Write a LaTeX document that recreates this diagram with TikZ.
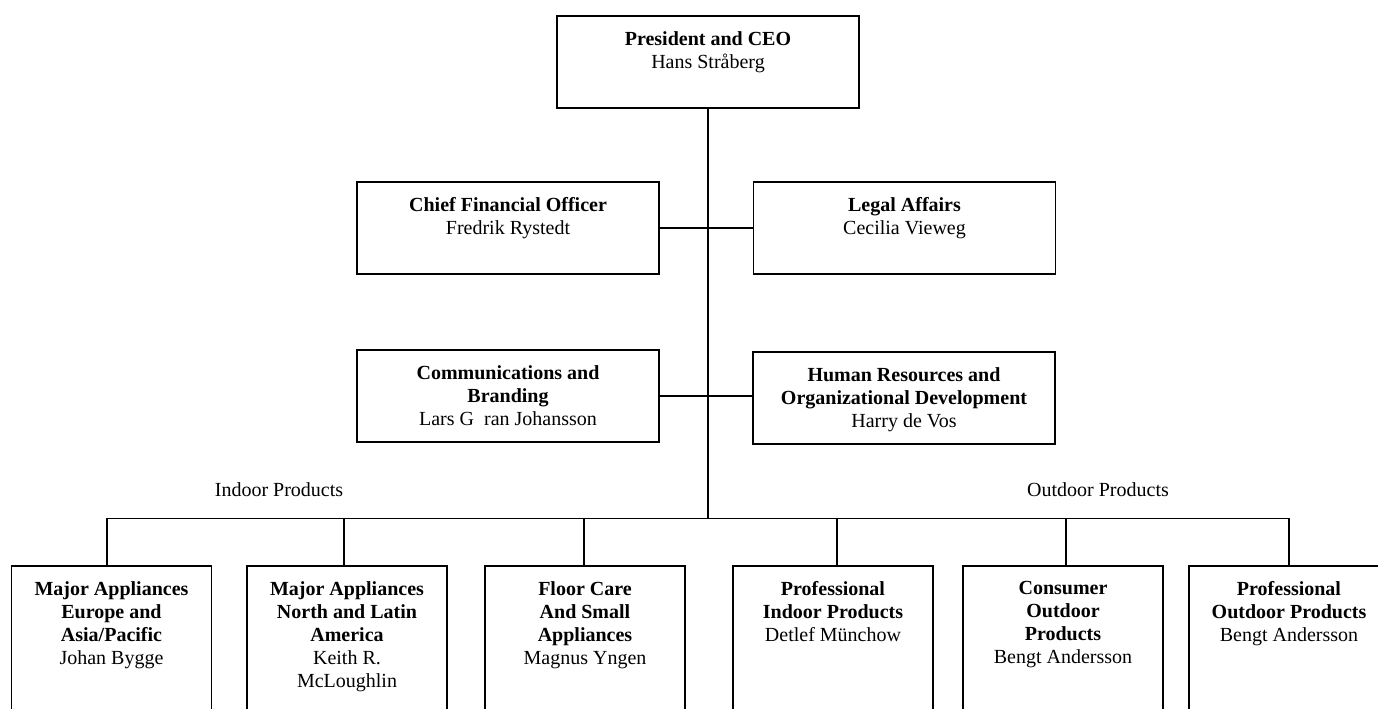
\documentclass[tikz,border=0pt]{standalone}
\usepackage{fontspec}
\setmainfont{Liberation Serif}
\begin{document}
\begin{tikzpicture}[x=0.75pt,y=-0.75pt,
  every node/.style={font=\fontsize{15}{17.25}\selectfont},
  orgbox/.style={draw=black,line width=1.4pt,rectangle,inner sep=0pt,fill=none},
  topbox/.style={orgbox,minimum width=226.5pt,minimum height=69pt},
  lowbox/.style={orgbox,minimum width=150pt,minimum height=127.5pt},
  boxtext/.style={anchor=north,inner sep=0pt,align=center,yshift=-12pt},
  link/.style={line width=1.4pt,line cap=rect},
  grouplabel/.style={inner sep=0pt}]
\useasboundingbox (0,0) rectangle (1378,708);
\clip (0,0) rectangle (1378,708);
\fill[white] (0,0) rectangle (1378,708);

% upper boxes
\node[topbox] (ceo) at (708,62) {};
\node[topbox] (cfo) at (508,228) {};
\node[topbox] (legal) at (904.5,228) {};
\node[topbox] (comm) at (508,396) {};
\node[topbox] (hr) at (904,398) {};

\node[boxtext] (tceo) at (ceo.north) {\textbf{President and CEO}\\Hans Stråberg};
\node[boxtext] (tcfo) at (cfo.north) {\textbf{Chief Financial Officer}\\Fredrik Rystedt};
\node[boxtext] (tlegal) at (legal.north) {\textbf{Legal Affairs}\\Cecilia Vieweg};
\node[boxtext] (tcomm) at (comm.north) {\textbf{Communications and}\\\textbf{Branding}\\Lars G\ \ ran Johansson};
\node[boxtext] (thr) at (hr.north) {\textbf{Human Resources and}\\\textbf{Organizational Development}\\Harry de Vos};

% lower boxes (cut off by the page bottom)
\node[lowbox] (b1) at (111.5,651) {};
\node[lowbox] (b2) at (347,651) {};
\node[lowbox] (b3) at (585,651) {};
\node[lowbox] (b4) at (833,651) {};
\node[lowbox] (b5) at (1063,651) {};
\node[lowbox] (b6) at (1289,651) {};

\node[boxtext] (tb1) at (b1.north) {\textbf{Major Appliances}\\\textbf{Europe and}\\\textbf{Asia/Pacific}\\Johan Bygge};
\node[boxtext] (tb2) at (b2.north) {\textbf{Major Appliances}\\\textbf{North and Latin}\\\textbf{America}\\Keith R.\\McLoughlin};
\node[boxtext] (tb3) at (b3.north) {\textbf{Floor Care}\\\textbf{And Small}\\\textbf{Appliances}\\Magnus Yngen};
\node[boxtext] (tb4) at (b4.north) {\textbf{Professional}\\\textbf{Indoor Products}\\Detlef Münchow};
\node[boxtext] (tb5) at (b5.north) {\textbf{Consumer}\\\textbf{Outdoor}\\\textbf{Products}\\Bengt Andersson};
\node[boxtext] (tb6) at (b6.north) {\textbf{Professional}\\\textbf{Outdoor Products}\\Bengt Andersson};

% group labels
\node[grouplabel] (indoor) at (279,490) {Indoor Products};
\node[grouplabel] (outdoor) at (1098,490) {Outdoor Products};

% bus coordinates
\coordinate (bus) at (708,518.5);
\coordinate (d1) at (107,518.5);
\coordinate (d2) at (344,518.5);
\coordinate (d3) at (584,518.5);
\coordinate (d4) at (837,518.5);
\coordinate (d5) at (1066,518.5);
\coordinate (d6) at (1289,518.5);

% connectors
\draw[link] (ceo.south) -- (bus);
\draw[link] (cfo.east) -- (legal.west);
\draw[link] (comm.east) -- (comm.east -| hr.west);
\draw[link] (d1) -- (d6);
\draw[link] (d1) -- (d1 |- b1.north);
\draw[link] (d2) -- (d2 |- b2.north);
\draw[link] (d3) -- (d3 |- b3.north);
\draw[link] (d4) -- (d4 |- b4.north);
\draw[link] (d5) -- (d5 |- b5.north);
\draw[link] (d6) -- (d6 |- b6.north);
\end{tikzpicture}
\end{document}
